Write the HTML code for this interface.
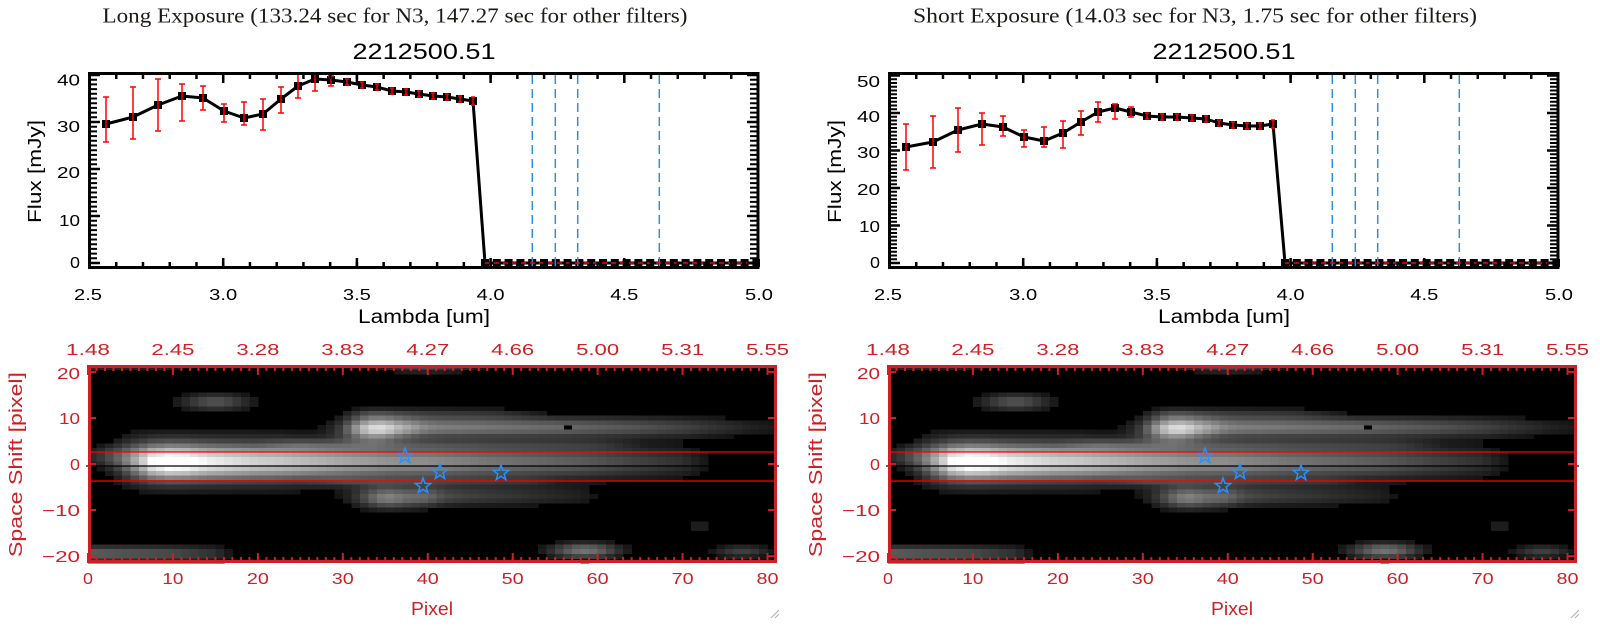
<!DOCTYPE html>
<html><head><meta charset="utf-8">
<style>
html,body{margin:0;padding:0;background:#fff;}
svg{display:block;}
text{font-family:"Liberation Sans",sans-serif;font-size:16px;fill:#000;}
.t{font-family:"Liberation Serif",serif;font-size:21px;fill:#1e1a16;}
.r{fill:#cd2026;}
</style></head><body>
<svg width="1600" height="630" viewBox="0 0 1600 630" xmlns="http://www.w3.org/2000/svg">
<rect width="1600" height="630" fill="#fff"/>

<!-- Titles -->
<text class="t" x="395" y="22.5" text-anchor="middle" textLength="585" lengthAdjust="spacingAndGlyphs">Long Exposure (133.24 sec for N3, 147.27 sec for other filters)</text>
<text class="t" x="1195" y="22.5" text-anchor="middle" textLength="564" lengthAdjust="spacingAndGlyphs">Short Exposure (14.03 sec for N3, 1.75 sec for other filters)</text>
<text x="424" y="59" text-anchor="middle" style="font-size:22px" textLength="143" lengthAdjust="spacingAndGlyphs">2212500.51</text>
<text x="1224" y="59" text-anchor="middle" style="font-size:22px" textLength="143" lengthAdjust="spacingAndGlyphs">2212500.51</text>

<!-- ============ TOP LEFT PLOT ============ -->
<g>
<polyline fill="none" stroke="#000" stroke-width="3" stroke-linejoin="round" points="106,124 133,117 158,105 182,96 203,98 224,111 244,118 263,114 281,99 298,86 315,79 331,80 347,82 362,85 377,87 392,91 406,92 419,94 433,96 447,97 460,99 473,101 485,263 757,263"/>
<line x1="481" y1="263" x2="760" y2="263" stroke="#000" stroke-width="8" stroke-dasharray="8 3.8"/>
<g fill="#000">
<rect x="102" y="120" width="8" height="8"/><rect x="129" y="113" width="8" height="8"/><rect x="154" y="101" width="8" height="8"/><rect x="178" y="92" width="8" height="8"/><rect x="199" y="94" width="8" height="8"/><rect x="220" y="107" width="8" height="8"/><rect x="240" y="114" width="8" height="8"/><rect x="259" y="110" width="8" height="8"/><rect x="277" y="95" width="8" height="8"/><rect x="294" y="82" width="8" height="8"/><rect x="311" y="75" width="8" height="8"/><rect x="327" y="76" width="8" height="8"/><rect x="343" y="78" width="8" height="8"/><rect x="358" y="81" width="8" height="8"/><rect x="373" y="83" width="8" height="8"/><rect x="388" y="87" width="8" height="8"/><rect x="402" y="88" width="8" height="8"/><rect x="415" y="90" width="8" height="8"/><rect x="429" y="92" width="8" height="8"/><rect x="443" y="93" width="8" height="8"/><rect x="456" y="95" width="8" height="8"/><rect x="469" y="97" width="8" height="8"/>
</g>
<path fill="none" stroke="#f00" stroke-width="1.5" d="M106,97V142M103,97H109M103,142H109 M133,87V139M130,87H136M130,139H136 M158,79V131M155,79H161M155,131H161 M182,84V121M179,84H185M179,121H185 M203,86V110M200,86H206M200,110H206 M224,104V122M221,104H227M221,122H227 M244,102V125M241,102H247M241,125H247 M263,99V130M260,99H266M260,130H266 M281,87V113M278,87H284M278,113H284 M298,74V98M295,74H301M295,98H301 M315,73V91M312,73H318M312,91H318 M331,76V86M328,76H334M328,86H334 M347,79V85M345,79H349M345,85H349 M362,82V88M360,82H364M360,88H364 M377,84V90M375,84H379M375,90H379 M392,88V94M390,88H394M390,94H394 M406,89V95M404,89H408M404,95H408 M419,91V97M417,91H421M417,97H421 M433,93V99M431,93H435M431,99H435 M447,94V100M445,94H449M445,100H449 M460,96V102M458,96H462M458,102H462 M473,97V105M471,97H475M471,105H475"/>
<g stroke="#2d8fe6" stroke-width="1.5" stroke-dasharray="9 5">
<line x1="532.3" y1="75" x2="532.3" y2="267"/><line x1="555.3" y1="75" x2="555.3" y2="267"/><line x1="577.7" y1="75" x2="577.7" y2="267"/><line x1="659.3" y1="75" x2="659.3" y2="267"/>
</g>
<line x1="485" y1="263" x2="757" y2="263" stroke="#f00" stroke-width="1.5" stroke-dasharray="5 4"/>
<rect x="89.5" y="73.5" width="668.5" height="194" fill="none" stroke="#000" stroke-width="3"/>
<line x1="92.5" y1="264" x2="92.5" y2="74" stroke="#000" stroke-width="9" stroke-dasharray="2 2.7"/>
<line x1="754.5" y1="264" x2="754.5" y2="74" stroke="#000" stroke-width="9" stroke-dasharray="2 2.7"/>
<g stroke="#000" stroke-width="2.5">
<path d="M88,263H100M88,216H100M88,169H100M88,122H100M88,75H100 M747,263H759M747,216H759M747,169H759M747,122H759M747,75H759"/>
<path d="M89.5,75V83M223.2,75V83M356.9,75V83M490.6,75V83M624.3,75V83M758,75V83 M89.5,258V266M223.2,258V266M356.9,258V266M490.6,258V266M624.3,258V266M758,258V266"/>
</g>
<line x1="88.25" y1="77" x2="759" y2="77" stroke="#000" stroke-width="4" stroke-dasharray="2.5 24.24"/>
<line x1="88.25" y1="264" x2="759" y2="264" stroke="#000" stroke-width="4" stroke-dasharray="2.5 24.24"/>
<text x="80" y="85.5" text-anchor="end" textLength="23" lengthAdjust="spacingAndGlyphs">40</text>
<text x="80" y="132" text-anchor="end" textLength="23" lengthAdjust="spacingAndGlyphs">30</text>
<text x="80" y="178" text-anchor="end" textLength="23" lengthAdjust="spacingAndGlyphs">20</text>
<text x="80" y="226" text-anchor="end" textLength="21" lengthAdjust="spacingAndGlyphs">10</text>
<text x="80" y="268" text-anchor="end" textLength="10" lengthAdjust="spacingAndGlyphs">0</text>
<text x="88" y="300" text-anchor="middle" textLength="28" lengthAdjust="spacingAndGlyphs">2.5</text>
<text x="223.2" y="300" text-anchor="middle" textLength="28" lengthAdjust="spacingAndGlyphs">3.0</text>
<text x="356.9" y="300" text-anchor="middle" textLength="28" lengthAdjust="spacingAndGlyphs">3.5</text>
<text x="490.6" y="300" text-anchor="middle" textLength="28" lengthAdjust="spacingAndGlyphs">4.0</text>
<text x="624.3" y="300" text-anchor="middle" textLength="28" lengthAdjust="spacingAndGlyphs">4.5</text>
<text x="759" y="300" text-anchor="middle" textLength="28" lengthAdjust="spacingAndGlyphs">5.0</text>
<text x="424" y="323" text-anchor="middle" style="font-size:19px" textLength="132" lengthAdjust="spacingAndGlyphs">Lambda [um]</text>
<text transform="translate(41,171.5) rotate(-90)" text-anchor="middle" style="font-size:18px" textLength="103" lengthAdjust="spacingAndGlyphs">Flux [mJy]</text>
</g>

<!-- ============ TOP RIGHT PLOT ============ -->
<g transform="translate(800,0)">
<polyline fill="none" stroke="#000" stroke-width="3" stroke-linejoin="round" points="106,147 133,142 158,130 182,124 203,127 224,137 244,141 263,133 281,122 298,112 315,108 331,112 347,116 362,117 377,117 392,118 406,119 419,123 433,125 447,126 460,126 473,124 485,263 757,263"/>
<line x1="481" y1="263" x2="760" y2="263" stroke="#000" stroke-width="8" stroke-dasharray="8 3.8"/>
<g fill="#000">
<rect x="102" y="143" width="8" height="8"/><rect x="129" y="138" width="8" height="8"/><rect x="154" y="126" width="8" height="8"/><rect x="178" y="120" width="8" height="8"/><rect x="199" y="123" width="8" height="8"/><rect x="220" y="133" width="8" height="8"/><rect x="240" y="137" width="8" height="8"/><rect x="259" y="129" width="8" height="8"/><rect x="277" y="118" width="8" height="8"/><rect x="294" y="108" width="8" height="8"/><rect x="311" y="104" width="8" height="8"/><rect x="327" y="108" width="8" height="8"/><rect x="343" y="112" width="8" height="8"/><rect x="358" y="113" width="8" height="8"/><rect x="373" y="113" width="8" height="8"/><rect x="388" y="114" width="8" height="8"/><rect x="402" y="115" width="8" height="8"/><rect x="415" y="119" width="8" height="8"/><rect x="429" y="121" width="8" height="8"/><rect x="443" y="122" width="8" height="8"/><rect x="456" y="122" width="8" height="8"/><rect x="469" y="120" width="8" height="8"/>
</g>
<path fill="none" stroke="#f00" stroke-width="1.5" d="M106,124V170M103,124H109M103,170H109 M133,116V168M130,116H136M130,168H136 M158,108V152M155,108H161M155,152H161 M182,113V145M179,113H185M179,145H185 M203,116V136M200,116H206M200,136H206 M224,130V147M221,130H227M221,147H227 M244,127V147M241,127H247M241,147H247 M263,121V148M260,121H266M260,148H266 M281,111V135M278,111H284M278,135H284 M298,102V122M295,102H301M295,122H301 M315,104V119M312,104H318M312,119H318 M331,107V117M328,107H334M328,117H334 M347,113V119M345,113H349M345,119H349 M362,114V120M360,114H364M360,120H364 M377,114V120M375,114H379M375,120H379 M392,115V121M390,115H394M390,121H394 M406,116V122M404,116H408M404,122H408 M419,120V126M417,120H421M417,126H421 M433,122V128M431,122H435M431,128H435 M447,123V129M445,123H449M445,129H449 M460,123V129M458,123H462M458,129H462 M473,120V128M471,120H475M471,128H475"/>
<g stroke="#2d8fe6" stroke-width="1.5" stroke-dasharray="9 5">
<line x1="532.3" y1="75" x2="532.3" y2="267"/><line x1="555.3" y1="75" x2="555.3" y2="267"/><line x1="577.7" y1="75" x2="577.7" y2="267"/><line x1="659.3" y1="75" x2="659.3" y2="267"/>
</g>
<line x1="485" y1="263" x2="757" y2="263" stroke="#f00" stroke-width="1.5" stroke-dasharray="5 4"/>
<rect x="89.5" y="73.5" width="668.5" height="194" fill="none" stroke="#000" stroke-width="3"/>
<line x1="92.5" y1="264" x2="92.5" y2="74" stroke="#000" stroke-width="9" stroke-dasharray="2 1.75"/>
<line x1="754.5" y1="264" x2="754.5" y2="74" stroke="#000" stroke-width="9" stroke-dasharray="2 1.75"/>
<g stroke="#000" stroke-width="2.5">
<path d="M88,263H100M88,225.5H100M88,188H100M88,150.5H100M88,113H100M88,75.5H100 M747,263H759M747,225.5H759M747,188H759M747,150.5H759M747,113H759M747,75.5H759"/>
<path d="M89.5,75V83M223.2,75V83M356.9,75V83M490.6,75V83M624.3,75V83M758,75V83 M89.5,258V266M223.2,258V266M356.9,258V266M490.6,258V266M624.3,258V266M758,258V266"/>
</g>
<line x1="88.25" y1="77" x2="759" y2="77" stroke="#000" stroke-width="4" stroke-dasharray="2.5 24.24"/>
<line x1="88.25" y1="264" x2="759" y2="264" stroke="#000" stroke-width="4" stroke-dasharray="2.5 24.24"/>
<text x="80" y="87" text-anchor="end" textLength="23" lengthAdjust="spacingAndGlyphs">50</text>
<text x="80" y="122" text-anchor="end" textLength="23" lengthAdjust="spacingAndGlyphs">40</text>
<text x="80" y="158" text-anchor="end" textLength="23" lengthAdjust="spacingAndGlyphs">30</text>
<text x="80" y="195" text-anchor="end" textLength="23" lengthAdjust="spacingAndGlyphs">20</text>
<text x="80" y="232" text-anchor="end" textLength="21" lengthAdjust="spacingAndGlyphs">10</text>
<text x="80" y="268" text-anchor="end" textLength="10" lengthAdjust="spacingAndGlyphs">0</text>
<text x="88" y="300" text-anchor="middle" textLength="28" lengthAdjust="spacingAndGlyphs">2.5</text>
<text x="223.2" y="300" text-anchor="middle" textLength="28" lengthAdjust="spacingAndGlyphs">3.0</text>
<text x="356.9" y="300" text-anchor="middle" textLength="28" lengthAdjust="spacingAndGlyphs">3.5</text>
<text x="490.6" y="300" text-anchor="middle" textLength="28" lengthAdjust="spacingAndGlyphs">4.0</text>
<text x="624.3" y="300" text-anchor="middle" textLength="28" lengthAdjust="spacingAndGlyphs">4.5</text>
<text x="759" y="300" text-anchor="middle" textLength="28" lengthAdjust="spacingAndGlyphs">5.0</text>
<text x="424" y="323" text-anchor="middle" style="font-size:19px" textLength="132" lengthAdjust="spacingAndGlyphs">Lambda [um]</text>
<text transform="translate(41,171.5) rotate(-90)" text-anchor="middle" style="font-size:18px" textLength="103" lengthAdjust="spacingAndGlyphs">Flux [mJy]</text>
</g>

<!-- ============ BOTTOM LEFT IMAGE ============ -->
<g>
<rect x="88" y="365" width="688" height="198" fill="#000"/>
<g id="cellsL" shape-rendering="crispEdges"></g>
<line x1="88" y1="452" x2="776" y2="452" stroke="#f00" stroke-width="1.3"/>
<line x1="88" y1="481" x2="776" y2="481" stroke="#f00" stroke-width="1.3"/>
<line x1="86" y1="466" x2="779" y2="466" stroke="#000" stroke-width="1.3"/>
<g fill="none" stroke="#2a8fff" stroke-width="1.5">
<path transform="translate(405,456)" d="M0,-8L1.94,-2.67L7.61,-2.47L3.14,1.02L4.7,6.47L0,3.3L-4.7,6.47L-3.14,1.02L-7.61,-2.47L-1.94,-2.67Z"/>
<path transform="translate(440,472)" d="M0,-8L1.94,-2.67L7.61,-2.47L3.14,1.02L4.7,6.47L0,3.3L-4.7,6.47L-3.14,1.02L-7.61,-2.47L-1.94,-2.67Z"/>
<path transform="translate(423,486)" d="M0,-8L1.94,-2.67L7.61,-2.47L3.14,1.02L4.7,6.47L0,3.3L-4.7,6.47L-3.14,1.02L-7.61,-2.47L-1.94,-2.67Z"/>
<path transform="translate(501,473)" d="M0,-8L1.94,-2.67L7.61,-2.47L3.14,1.02L4.7,6.47L0,3.3L-4.7,6.47L-3.14,1.02L-7.61,-2.47L-1.94,-2.67Z"/>
</g>
<rect x="89.5" y="366.5" width="686" height="195" fill="none" stroke="#cd2026" stroke-width="3"/>
<line x1="87" y1="368" x2="777" y2="368" stroke="#cd2026" stroke-width="6" stroke-dasharray="2 6.494"/>
<line x1="87" y1="560" x2="777" y2="560" stroke="#cd2026" stroke-width="6" stroke-dasharray="2 6.494"/>
<path stroke="#cd2026" stroke-width="2" d="M88,365V375M172.94,365V375M257.88,365V375M342.82,365V375M427.76,365V375M512.7,365V375M597.64,365V375M682.58,365V375M767.52,365V375 M88,553V563M172.94,553V563M257.88,553V563M342.82,553V563M427.76,553V563M512.7,553V563M597.64,553V563M682.58,553V563M767.52,553V563 M88,371.9H96M88,418H96M88,464H96M88,510H96M88,556.1H96 M768,371.9H777M768,418H777M768,464H777M768,510H777M768,556.1H777"/>
<g class="r">
<text class="r" x="88" y="355" text-anchor="middle" textLength="44" lengthAdjust="spacingAndGlyphs">1.48</text>
<text class="r" x="172.94" y="355" text-anchor="middle" textLength="43" lengthAdjust="spacingAndGlyphs">2.45</text>
<text class="r" x="257.88" y="355" text-anchor="middle" textLength="43" lengthAdjust="spacingAndGlyphs">3.28</text>
<text class="r" x="342.82" y="355" text-anchor="middle" textLength="43" lengthAdjust="spacingAndGlyphs">3.83</text>
<text class="r" x="427.76" y="355" text-anchor="middle" textLength="43" lengthAdjust="spacingAndGlyphs">4.27</text>
<text class="r" x="512.7" y="355" text-anchor="middle" textLength="43" lengthAdjust="spacingAndGlyphs">4.66</text>
<text class="r" x="597.64" y="355" text-anchor="middle" textLength="43" lengthAdjust="spacingAndGlyphs">5.00</text>
<text class="r" x="682.58" y="355" text-anchor="middle" textLength="43" lengthAdjust="spacingAndGlyphs">5.31</text>
<text class="r" x="767.52" y="355" text-anchor="middle" textLength="43" lengthAdjust="spacingAndGlyphs">5.55</text>
<text class="r" x="88" y="584" text-anchor="middle" textLength="10" lengthAdjust="spacingAndGlyphs">0</text>
<text class="r" x="172.94" y="584" text-anchor="middle" textLength="21" lengthAdjust="spacingAndGlyphs">10</text>
<text class="r" x="257.88" y="584" text-anchor="middle" textLength="22" lengthAdjust="spacingAndGlyphs">20</text>
<text class="r" x="342.82" y="584" text-anchor="middle" textLength="22" lengthAdjust="spacingAndGlyphs">30</text>
<text class="r" x="427.76" y="584" text-anchor="middle" textLength="22" lengthAdjust="spacingAndGlyphs">40</text>
<text class="r" x="512.7" y="584" text-anchor="middle" textLength="22" lengthAdjust="spacingAndGlyphs">50</text>
<text class="r" x="597.64" y="584" text-anchor="middle" textLength="22" lengthAdjust="spacingAndGlyphs">60</text>
<text class="r" x="682.58" y="584" text-anchor="middle" textLength="22" lengthAdjust="spacingAndGlyphs">70</text>
<text class="r" x="767.52" y="584" text-anchor="middle" textLength="22" lengthAdjust="spacingAndGlyphs">80</text>
<text class="r" x="80" y="379" text-anchor="end" textLength="23" lengthAdjust="spacingAndGlyphs">20</text>
<text class="r" x="80" y="424" text-anchor="end" textLength="21" lengthAdjust="spacingAndGlyphs">10</text>
<text class="r" x="80" y="470" text-anchor="end" textLength="10" lengthAdjust="spacingAndGlyphs">0</text>
<text class="r" x="80" y="516" text-anchor="end" textLength="38" lengthAdjust="spacingAndGlyphs">−10</text>
<text class="r" x="80" y="562" text-anchor="end" textLength="38" lengthAdjust="spacingAndGlyphs">−20</text>
<text class="r" x="432" y="615" text-anchor="middle" style="font-size:18px" textLength="42" lengthAdjust="spacingAndGlyphs">Pixel</text>
<text class="r" transform="translate(22,464.5) rotate(-90)" text-anchor="middle" style="font-size:18px" textLength="185" lengthAdjust="spacingAndGlyphs">Space Shift [pixel]</text>
</g>
<path d="M771,618L779,610M775,618L779,614" stroke="#b0b0b0" stroke-width="1"/>
</g>

<!-- ============ BOTTOM RIGHT IMAGE ============ -->
<g transform="translate(800,0)">
<rect x="88" y="365" width="688" height="198" fill="#000"/>
<g id="cellsR" shape-rendering="crispEdges"></g>
<line x1="88" y1="452" x2="776" y2="452" stroke="#f00" stroke-width="1.3"/>
<line x1="88" y1="481" x2="776" y2="481" stroke="#f00" stroke-width="1.3"/>
<line x1="86" y1="466" x2="779" y2="466" stroke="#000" stroke-width="1.3"/>
<g fill="none" stroke="#2a8fff" stroke-width="1.5">
<path transform="translate(405,456)" d="M0,-8L1.94,-2.67L7.61,-2.47L3.14,1.02L4.7,6.47L0,3.3L-4.7,6.47L-3.14,1.02L-7.61,-2.47L-1.94,-2.67Z"/>
<path transform="translate(440,472)" d="M0,-8L1.94,-2.67L7.61,-2.47L3.14,1.02L4.7,6.47L0,3.3L-4.7,6.47L-3.14,1.02L-7.61,-2.47L-1.94,-2.67Z"/>
<path transform="translate(423,486)" d="M0,-8L1.94,-2.67L7.61,-2.47L3.14,1.02L4.7,6.47L0,3.3L-4.7,6.47L-3.14,1.02L-7.61,-2.47L-1.94,-2.67Z"/>
<path transform="translate(501,473)" d="M0,-8L1.94,-2.67L7.61,-2.47L3.14,1.02L4.7,6.47L0,3.3L-4.7,6.47L-3.14,1.02L-7.61,-2.47L-1.94,-2.67Z"/>
</g>
<rect x="89.5" y="366.5" width="686" height="195" fill="none" stroke="#cd2026" stroke-width="3"/>
<line x1="87" y1="368" x2="777" y2="368" stroke="#cd2026" stroke-width="6" stroke-dasharray="2 6.494"/>
<line x1="87" y1="560" x2="777" y2="560" stroke="#cd2026" stroke-width="6" stroke-dasharray="2 6.494"/>
<path stroke="#cd2026" stroke-width="2" d="M88,365V375M172.94,365V375M257.88,365V375M342.82,365V375M427.76,365V375M512.7,365V375M597.64,365V375M682.58,365V375M767.52,365V375 M88,553V563M172.94,553V563M257.88,553V563M342.82,553V563M427.76,553V563M512.7,553V563M597.64,553V563M682.58,553V563M767.52,553V563 M88,371.9H96M88,418H96M88,464H96M88,510H96M88,556.1H96 M768,371.9H777M768,418H777M768,464H777M768,510H777M768,556.1H777"/>
<g class="r">
<text class="r" x="88" y="355" text-anchor="middle" textLength="44" lengthAdjust="spacingAndGlyphs">1.48</text>
<text class="r" x="172.94" y="355" text-anchor="middle" textLength="43" lengthAdjust="spacingAndGlyphs">2.45</text>
<text class="r" x="257.88" y="355" text-anchor="middle" textLength="43" lengthAdjust="spacingAndGlyphs">3.28</text>
<text class="r" x="342.82" y="355" text-anchor="middle" textLength="43" lengthAdjust="spacingAndGlyphs">3.83</text>
<text class="r" x="427.76" y="355" text-anchor="middle" textLength="43" lengthAdjust="spacingAndGlyphs">4.27</text>
<text class="r" x="512.7" y="355" text-anchor="middle" textLength="43" lengthAdjust="spacingAndGlyphs">4.66</text>
<text class="r" x="597.64" y="355" text-anchor="middle" textLength="43" lengthAdjust="spacingAndGlyphs">5.00</text>
<text class="r" x="682.58" y="355" text-anchor="middle" textLength="43" lengthAdjust="spacingAndGlyphs">5.31</text>
<text class="r" x="767.52" y="355" text-anchor="middle" textLength="43" lengthAdjust="spacingAndGlyphs">5.55</text>
<text class="r" x="88" y="584" text-anchor="middle" textLength="10" lengthAdjust="spacingAndGlyphs">0</text>
<text class="r" x="172.94" y="584" text-anchor="middle" textLength="21" lengthAdjust="spacingAndGlyphs">10</text>
<text class="r" x="257.88" y="584" text-anchor="middle" textLength="22" lengthAdjust="spacingAndGlyphs">20</text>
<text class="r" x="342.82" y="584" text-anchor="middle" textLength="22" lengthAdjust="spacingAndGlyphs">30</text>
<text class="r" x="427.76" y="584" text-anchor="middle" textLength="22" lengthAdjust="spacingAndGlyphs">40</text>
<text class="r" x="512.7" y="584" text-anchor="middle" textLength="22" lengthAdjust="spacingAndGlyphs">50</text>
<text class="r" x="597.64" y="584" text-anchor="middle" textLength="22" lengthAdjust="spacingAndGlyphs">60</text>
<text class="r" x="682.58" y="584" text-anchor="middle" textLength="22" lengthAdjust="spacingAndGlyphs">70</text>
<text class="r" x="767.52" y="584" text-anchor="middle" textLength="22" lengthAdjust="spacingAndGlyphs">80</text>
<text class="r" x="80" y="379" text-anchor="end" textLength="23" lengthAdjust="spacingAndGlyphs">20</text>
<text class="r" x="80" y="424" text-anchor="end" textLength="21" lengthAdjust="spacingAndGlyphs">10</text>
<text class="r" x="80" y="470" text-anchor="end" textLength="10" lengthAdjust="spacingAndGlyphs">0</text>
<text class="r" x="80" y="516" text-anchor="end" textLength="38" lengthAdjust="spacingAndGlyphs">−10</text>
<text class="r" x="80" y="562" text-anchor="end" textLength="38" lengthAdjust="spacingAndGlyphs">−20</text>
<text class="r" x="432" y="615" text-anchor="middle" style="font-size:18px" textLength="42" lengthAdjust="spacingAndGlyphs">Pixel</text>
<text class="r" transform="translate(22,464.5) rotate(-90)" text-anchor="middle" style="font-size:18px" textLength="185" lengthAdjust="spacingAndGlyphs">Space Shift [pixel]</text>
</g>
<path d="M771,618L779,610M775,618L779,614" stroke="#b0b0b0" stroke-width="1"/>
</g>
</svg>

<script>
(function(){
  var W = 688/81, H = 198/43;
  function interp(c, pts){
    if (c <= pts[0][0]) return pts[0][1];
    for (var i = 1; i < pts.length; i++){
      if (c <= pts[i][0]){
        var x0 = pts[i-1][0], y0 = pts[i-1][1], x1 = pts[i][0], y1 = pts[i][1];
        return y0 + (y1 - y0) * (c - x0) / (x1 - x0);
      }
    }
    return pts[pts.length-1][1];
  }
  function g2(c,v,cx,cy,sx,sy){ return Math.exp(-((c-cx)*(c-cx)/(2*sx*sx) + (v-cy)*(v-cy)/(2*sy*sy))); }
  function g1(v,cy,s){ return Math.exp(-((v-cy)*(v-cy))/(2*s*s)); }
  var s = '';
  for (var i = 0; i < 81; i++){
    for (var k = 0; k < 43; k++){
      var c = i + 0.5, v = 21 - k, t = 0;
      /* main band core */
      t += interp(c,[[2,0],[4,0.15],[6,0.5],[7.5,0.82],[9.5,0.98],[11.5,0.95],[14,0.82],[20,0.68],[30,0.6],[40,0.56],[47,0.47],[58,0.36],[64,0.27],[70,0.19],[73,0.08],[76,0]]) * g1(v,0.4,2.6);
      /* halo around band */
      t += interp(c,[[1,0],[5,0.14],[22,0.14],[30,0.06],[36,0]]) * g1(v,0.8,5.2);
      /* faint rows just above / below the band */
      t += interp(c,[[20,0],[25,0.12],[60,0.1],[66,0]]) * g1(v,4.2,0.8);
      t += interp(c,[[25,0],[30,0.1],[52,0.08],[56,0]]) * g1(v,-3.8,0.7);
      /* left dim start */
      t += 0.22*g2(c,v,2.5,1.5,3,1.8);
      /* upper blob + extension */
      t += 0.62*g2(c,v,33.5,7.7,2.6,1.8);
      t += interp(c,[[30,0],[34,0.25],[38,0.5],[46,0.46],[56,0.4],[64,0.33],[70,0.26],[75,0.18],[80,0.1]]) * g1(v,8,1.6);
      t += interp(c,[[29,0],[33,0.15],[48,0.12],[55,0]]) * g1(v,11,1);
      /* lower blob + extension */
      t += 0.5*g2(c,v,35.5,-7.3,2.8,1.7);
      t += interp(c,[[37,0],[40,0.28],[50,0.2],[58,0.12],[62,0]]) * g1(v,-7,1.6);
      /* small upper-left blob */
      t += 0.32*g2(c,v,15,13.5,3,1.3);
      /* bottom-left streak */
      t += interp(c,[[0,0.38],[10,0.3],[15,0.2],[18,0]]) * g1(v,-19.5,1.3);
      t += 0.15*interp(c,[[0,1],[10,0.8],[12,0]]) * g1(v,21,0.6);
      /* bottom blobs */
      t += 0.45*g2(c,v,58.5,-18.8,3,1.2);
      t += 0.25*g2(c,v,77,-19,2.5,1);
      t += 0.15*g2(c,v,72,-13.5,1.5,0.7);
      /* top strip */
      t += 0.3*g2(c,v,40,21,4,0.8);
      if (i === 56 && k === 13) t = 0;
      if (t < 0.08) continue;
      if (t > 1) t = 1;
      var g = Math.round(255*t);
      s += '<rect x="' + (88 + i*W).toFixed(2) + '" y="' + (365 + k*H).toFixed(2) + '" width="' + (W+0.4).toFixed(2) + '" height="' + (H+0.4).toFixed(2) + '" fill="rgb(' + g + ',' + g + ',' + g + ')"/>';
    }
  }
  document.getElementById('cellsL').innerHTML = s;
  document.getElementById('cellsR').innerHTML = s;
})();
</script>
</body></html>
